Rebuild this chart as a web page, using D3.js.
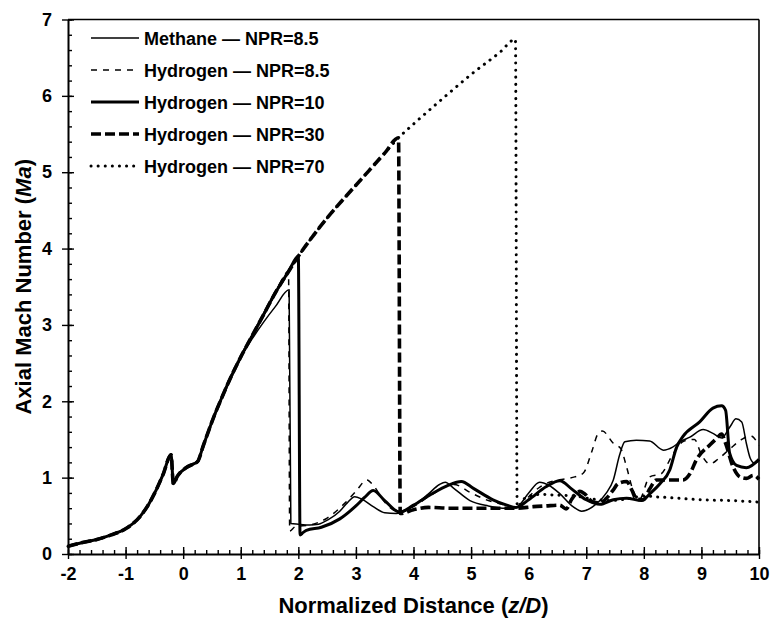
<!DOCTYPE html>
<html>
<head>
<meta charset="utf-8">
<script src="https://cdn.jsdelivr.net/npm/d3@7/dist/d3.min.js"></script>
<style>
html,body{margin:0;padding:0;background:#fff;}
svg{display:block;font-family:"Liberation Sans",Arial,Helvetica,sans-serif;}
</style>
</head>
<body>
<svg id="chart" width="771" height="621"></svg>
<script>
// ---- data ----
const xMajorTicks = [-2,-1,0,1,2,3,4,5,6,7,8,9,10];
const yMajorTicks = [0,1,2,3,4,5,6,7];
const legendLabels = ["Methane \u2014 NPR=8.5","Hydrogen \u2014 NPR=8.5","Hydrogen \u2014 NPR=10","Hydrogen \u2014 NPR=30","Hydrogen \u2014 NPR=70"];

// shared nozzle/near-field rise (all cases coincide)
const riseShared = [[-2,0.10],[-1.75,0.15],[-1.5,0.19],[-1.25,0.25],[-1.0,0.33],[-0.75,0.49],[-0.6,0.65],[-0.5,0.79],[-0.35,1.04],[-0.21,1.30],[-0.17,0.92],[-0.1,1.02],[0.05,1.13],[0.18,1.18],[0.25,1.21],[0.35,1.42],[0.45,1.63],[0.55,1.83],[0.65,2.01],[0.8,2.27],[1.0,2.58]];
// hydrogen upper branch
const upperShared = [[1.2,2.86],[1.4,3.14],[1.6,3.42],[1.83,3.70]];
const upperHigh = [[2.0,3.90],[2.25,4.16],[2.5,4.40],[2.75,4.62],[3.0,4.83],[3.25,5.04],[3.5,5.25],[3.74,5.45]];

const methane85 = [[1.2,2.82],[1.4,3.04],[1.6,3.24],[1.84,3.46],[1.87,0.40],[2.0,0.39],[2.2,0.38],[2.35,0.39],[2.52,0.45],[2.72,0.56],[2.85,0.67],[2.98,0.75],[3.1,0.72],[3.3,0.62],[3.5,0.54],[3.7,0.53],[3.85,0.56],[4.0,0.63],[4.25,0.78],[4.45,0.91],[4.55,0.94],[4.7,0.86],[4.98,0.70],[5.3,0.63],[5.6,0.60],[5.8,0.62],[6.0,0.80],[6.19,0.94],[6.35,0.90],[6.54,0.79],[6.77,0.62],[6.92,0.56],[7.18,0.66],[7.35,0.80],[7.47,0.97],[7.58,1.30],[7.67,1.47],[7.87,1.49],[8.1,1.48],[8.34,1.36],[8.5,1.40],[8.63,1.47],[8.8,1.53],[9.03,1.63],[9.2,1.58],[9.35,1.52],[9.5,1.67],[9.6,1.77],[9.7,1.73],[9.78,1.45],[9.85,1.25],[9.92,1.19],[10,1.22]];

const hydrogen85 = [[1.85,0.30],[1.95,0.36],[2.2,0.38],[2.5,0.47],[2.8,0.66],[3.0,0.82],[3.19,0.97],[3.3,0.90],[3.5,0.68],[3.75,0.55],[4.0,0.62],[4.3,0.77],[4.7,0.91],[5.0,0.80],[5.3,0.70],[5.6,0.64],[5.8,0.60],[6.0,0.75],[6.2,0.88],[6.4,0.95],[6.6,0.98],[6.8,1.01],[6.95,1.06],[7.1,1.35],[7.2,1.57],[7.28,1.61],[7.47,1.45],[7.6,1.38],[7.7,1.14],[7.81,0.84],[7.92,0.71],[8.1,1.01],[8.3,1.05],[8.5,1.30],[8.7,1.48],[8.88,1.50],[9.0,1.30],[9.15,1.18],[9.3,1.25],[9.5,1.38],[9.7,1.50],[9.85,1.55],[10,1.42]];

const hydrogen10 = [[2.0,3.90],[2.03,0.25],[2.08,0.28],[2.14,0.31],[2.4,0.35],[2.72,0.46],[3.0,0.63],[3.15,0.74],[3.3,0.83],[3.5,0.70],[3.76,0.55],[4.0,0.64],[4.3,0.78],[4.6,0.90],[4.83,0.95],[5.04,0.86],[5.38,0.71],[5.62,0.64],[5.78,0.61],[6.0,0.71],[6.3,0.88],[6.54,0.96],[6.75,0.85],[7.0,0.71],[7.24,0.65],[7.47,0.71],[7.7,0.73],[7.96,0.70],[8.12,0.80],[8.28,0.92],[8.45,1.10],[8.57,1.40],[8.68,1.54],[8.97,1.73],[9.2,1.91],[9.35,1.94],[9.42,1.88],[9.49,1.32],[9.61,1.16],[9.78,1.13],[10,1.24]];

const hydrogen30 = [[3.77,0.53],[4.0,0.58],[4.26,0.61],[4.63,0.60],[5.0,0.60],[5.5,0.60],[5.8,0.60],[6.08,0.62],[6.3,0.63],[6.54,0.64],[6.65,0.59],[6.75,0.72],[6.89,0.82],[6.97,0.79],[7.12,0.68],[7.25,0.67],[7.35,0.73],[7.47,0.84],[7.55,0.92],[7.7,0.95],[7.79,0.84],[7.87,0.72],[7.99,0.71],[8.1,0.85],[8.22,0.97],[8.68,0.97],[8.8,1.05],[8.91,1.23],[9.15,1.43],[9.26,1.51],[9.35,1.57],[9.42,1.45],[9.55,1.14],[9.67,1.01],[9.78,0.99],[9.9,1.03],[10,0.98]];

const hydrogen70 = [[4.0,5.63],[4.5,5.96],[5.0,6.28],[5.5,6.57],[5.77,6.74],[5.8,0.62],[5.95,0.74],[6.2,0.78],[6.5,0.77],[6.8,0.76],[7.1,0.72],[7.4,0.70],[7.7,0.72],[8.0,0.76],[8.2,0.75],[8.6,0.73],[9.0,0.71],[9.5,0.70],[10,0.68]];

// ---- layout ----
const L = 68, R = 759, T = 19.5, B = 554;
const svg = d3.select("#chart");
const x = d3.scaleLinear().domain([-2,10]).range([L,R]);
const y = d3.scaleLinear().domain([0,7]).range([B,T]);

const minorX = d3.range(-2,10.001,0.2).map(v=>+v.toFixed(2));
const minorY = d3.range(0,7.001,0.2).map(v=>+v.toFixed(2));
const fmt = d=>String(d);

// frame (top/right)
svg.append("line").attr("x1",L).attr("x2",R).attr("y1",T).attr("y2",T).attr("stroke","#000").attr("stroke-width",1.6);
svg.append("line").attr("x1",R).attr("x2",R).attr("y1",T).attr("y2",B).attr("stroke","#000").attr("stroke-width",1.6);

// x axis
const gx = svg.append("g").attr("transform",`translate(0,${B})`);
gx.append("g").call(d3.axisBottom(x).tickValues(minorX).tickSize(-4).tickFormat("")).call(g=>g.select(".domain").remove());
gx.append("g").call(d3.axisBottom(x).tickValues(xMajorTicks).tickSize(-7).tickFormat("")).call(g=>g.select(".domain").remove());
const xa = gx.append("g").call(d3.axisBottom(x).tickValues(xMajorTicks).tickSizeInner(5).tickSizeOuter(0).tickPadding(8).tickFormat(fmt));
xa.selectAll("text").attr("font-size",18).attr("font-weight","bold").attr("fill","#000");
gx.selectAll("line").attr("stroke","#000").attr("stroke-width",1.4);
xa.select(".domain").attr("stroke","#000").attr("stroke-width",2);

// y axis
const gy = svg.append("g").attr("transform",`translate(${L},0)`);
gy.append("g").call(d3.axisLeft(y).tickValues(minorY).tickSize(-4).tickFormat("")).call(g=>g.select(".domain").remove());
gy.append("g").call(d3.axisLeft(y).tickValues(yMajorTicks).tickSize(-6).tickFormat("")).call(g=>g.select(".domain").remove());
const ya = gy.append("g").call(d3.axisLeft(y).tickValues(yMajorTicks).tickSizeInner(6).tickSizeOuter(0).tickPadding(10).tickFormat(fmt));
ya.selectAll("text").attr("font-size",18).attr("font-weight","bold").attr("fill","#000");
gy.selectAll("line").attr("stroke","#000").attr("stroke-width",1.4);
ya.select(".domain").attr("stroke","#000").attr("stroke-width",2);

// axis titles
const xt = svg.append("text").attr("x",(L+R)/2).attr("y",613).attr("text-anchor","middle").attr("font-size",22).attr("font-weight","bold");
xt.append("tspan").text("Normalized Distance (");
xt.append("tspan").attr("font-style","italic").text("z/D");
xt.append("tspan").text(")");
const yt = svg.append("text").attr("transform",`translate(31,${(T+B)/2}) rotate(-90)`).attr("text-anchor","middle").attr("font-size",22).attr("font-weight","bold");
yt.append("tspan").text("Axial Mach Number (");
yt.append("tspan").attr("font-style","italic").text("Ma");
yt.append("tspan").text(")");

// ---- series ----
const line = d3.line().x(d=>x(d[0])).y(d=>y(d[1])).curve(d3.curveMonotoneX);
const styles = [
  {w:1.5, dash:null, cap:"butt"},
  {w:1.5, dash:"6,6", cap:"butt"},
  {w:3,   dash:null, cap:"butt"},
  {w:3.6, dash:"10,4", cap:"butt"},
  {w:3,   dash:"0.1,7", cap:"round"}
];
const seriesData = [
  riseShared.concat(methane85),
  riseShared.concat(upperShared, hydrogen85),
  riseShared.concat(upperShared, hydrogen10),
  riseShared.concat(upperShared, upperHigh, hydrogen30),
  riseShared.concat(upperShared, upperHigh, hydrogen70)
];
const order = [4,3,1,0,2];
const plot = svg.append("g");
order.forEach(i=>{
  plot.append("path").datum(seriesData[i]).attr("d",line)
    .attr("fill","none").attr("stroke","#000").attr("stroke-width",styles[i].w)
    .attr("stroke-dasharray",styles[i].dash).attr("stroke-linecap",styles[i].cap)
    .attr("stroke-linejoin","round");
});

// ---- legend ----
const lg = svg.append("g");
legendLabels.forEach((lab,i)=>{
  const yy = 38 + i*32;
  lg.append("line").attr("x1",91).attr("x2",139).attr("y1",yy).attr("y2",yy)
    .attr("stroke","#000").attr("stroke-width",styles[i].w)
    .attr("stroke-dasharray",styles[i].dash).attr("stroke-linecap",styles[i].cap);
  lg.append("text").attr("x",144).attr("y",yy+6.5).attr("font-size",18).attr("font-weight","bold").text(lab);
});
</script>
</body>
</html>
